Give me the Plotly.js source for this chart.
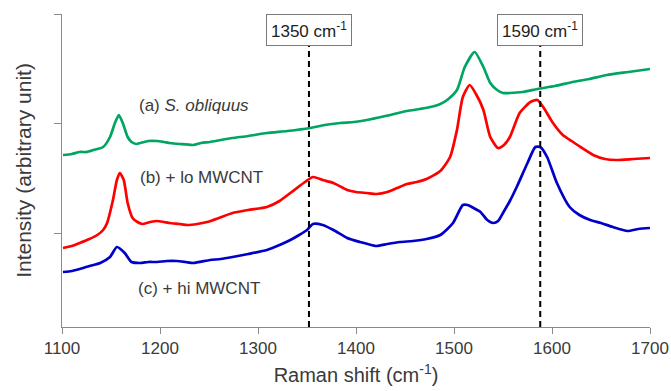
<!DOCTYPE html>
<html>
<head>
<meta charset="utf-8">
<script src="https://cdn.plot.ly/plotly-3.0.1.min.js"></script>
<style>html,body{margin:0;padding:0;background:#fff;}#chart{width:671px;height:391px;}</style>
</head>
<body>
<div id="chart"></div>
<script>
// (a) S. obliquus
var greenX = [1101,1110,1118,1125,1132,1142,1149,1154,1158,1162,1167,1171,1176,1180,1188,1197,1204,1210,1220,1234,1242,1251,1262,1274,1290,1309,1330,1353,1368,1384,1398,1411,1430,1452,1465,1476,1486,1493,1503,1511,1521,1530,1537,1544,1550,1557,1570,1585,1603,1621,1638,1656,1678,1700];
var greenY = [172,173,175,175,177,180,190,204,212,204,190,185,183,184,186,186,185,184,183,182,184,185,187,189,191,194,196,199,202,204,205,207,211,216,218,220,223,227,237,260,275,260,244,237,234,234,235,238,241,245,248,252,255,258];
// (b) + lo MWCNT
var redX = [1101,1110,1118,1128,1136,1142,1146,1152,1156,1159,1163,1167,1172,1177,1182,1190,1197,1204,1210,1220,1228,1238,1248,1260,1274,1290,1309,1322,1333,1341,1348,1356,1366,1377,1391,1400,1411,1421,1432,1442,1452,1462,1472,1486,1496,1503,1509,1516,1523,1530,1537,1545,1551,1557,1567,1578,1585,1591,1601,1611,1620,1629,1642,1654,1666,1683,1700];
var redY = [79,81,84,88,92,97,104,127,147,154,147,124,109,105,103,105,106,105,104,103,102,103,105,109,114,117,120,126,134,140,145,150,147,144,137,135,134,133,135,139,143,145,148,156,170,197,230,242,232,217,190,179,182,190,214,225,227,220,204,192,186,180,172,168,167,168,169];
// (c) + hi MWCNT
var blueX = [1101,1110,1118,1128,1139,1149,1156,1164,1171,1180,1188,1197,1207,1217,1226,1234,1251,1262,1274,1290,1309,1322,1333,1342,1350,1356,1366,1377,1391,1404,1412,1421,1432,1445,1458,1472,1486,1499,1509,1514,1520,1527,1534,1540,1545,1550,1557,1564,1575,1583,1588,1595,1605,1618,1628,1639,1650,1662,1677,1688,1700];
var blueY = [55,56,58,61,64,70,80,74,65,64,65,65,66,66,65,64,67,68,70,73,77,82,87,92,97,103,102,97,89,85,83,81,83,85,86,88,92,104,122,122,119,115,107,104,106,114,126,140,164,180,180,170,144,120,112,107,104,100,96,98,99];

var xTicks = [1100,1200,1300,1400,1500,1600,1700];
var peakPositions = [1352, 1588];
var peakLabels = ['1350 cm<sup>-1</sup>', '1590 cm<sup>-1</sup>'];
var seriesLabels = ['(a) <i>S. obliquus</i>', '(b) + lo MWCNT', '(c) + hi MWCNT'];
var labelX = [1235, 1242, 1240];
var labelY = [222, 150, 39];

var FONT = 'Liberation Sans, Arial, sans-serif';
var TXT = '#3a3a3a';
var AX = '#8a8a8a';

var lineStyle = function (c) { return {color: c, width: 2.7, shape: 'spline', smoothing: 0.6}; };
var traces = [
  {x: greenX, y: greenY, mode: 'lines', line: lineStyle('#00a562'), name: 'a'},
  {x: redX, y: redY, mode: 'lines', line: lineStyle('#ff0000'), name: 'b'},
  {x: blueX, y: blueY, mode: 'lines', line: lineStyle('#0000c8'), name: 'c'}
];

var shapes = peakPositions.map(function (p) {
  return {type: 'line', xref: 'x', yref: 'y', x0: p, x1: p, y0: 0, y1: 283,
          line: {color: '#000', width: 2, dash: '6px,4px'}};
});

var annotations = [];
peakPositions.forEach(function (p, i) {
  annotations.push({x: p, y: 1, xref: 'x', yref: 'paper', yanchor: 'top', xanchor: 'center',
    text: peakLabels[i], showarrow: false, bgcolor: '#fff', bordercolor: '#7a7a7a', borderwidth: 1,
    borderpad: 4, font: {family: FONT, size: 17, color: '#222'}});
});
seriesLabels.forEach(function (t, i) {
  annotations.push({x: labelX[i], y: labelY[i], xref: 'x', yref: 'y', text: t, showarrow: false,
    xanchor: 'center', yanchor: 'middle', font: {family: FONT, size: 17, color: TXT}});
});

var layout = {
  width: 671, height: 391,
  margin: {l: 62, r: 21, t: 14, b: 64},
  paper_bgcolor: '#fff', plot_bgcolor: '#fff',
  showlegend: false,
  font: {family: FONT, color: TXT},
  xaxis: {range: [1100, 1700], tickvals: xTicks, ticks: 'outside', ticklen: 6, tickcolor: AX, tickwidth: 1,
    showline: true, linecolor: AX, linewidth: 1, showgrid: false, zeroline: false,
    tickfont: {family: FONT, size: 17, color: TXT},
    title: {text: 'Raman shift (cm<sup>-1</sup>)', font: {family: FONT, size: 20, color: TXT}, standoff: 10}},
  yaxis: {range: [0, 313], tickvals: [94, 203.5, 313], ticks: 'outside', ticklen: 7, tickcolor: AX, tickwidth: 1,
    showticklabels: false, showline: true, linecolor: AX, linewidth: 1, showgrid: false, zeroline: false,
    title: {text: 'Intensity (arbitrary unit)', font: {family: FONT, size: 21, color: TXT}, standoff: 16}},
  shapes: shapes,
  annotations: annotations
};

Plotly.newPlot('chart', traces, layout, {displayModeBar: false, staticPlot: true});
</script>
</body>
</html>
